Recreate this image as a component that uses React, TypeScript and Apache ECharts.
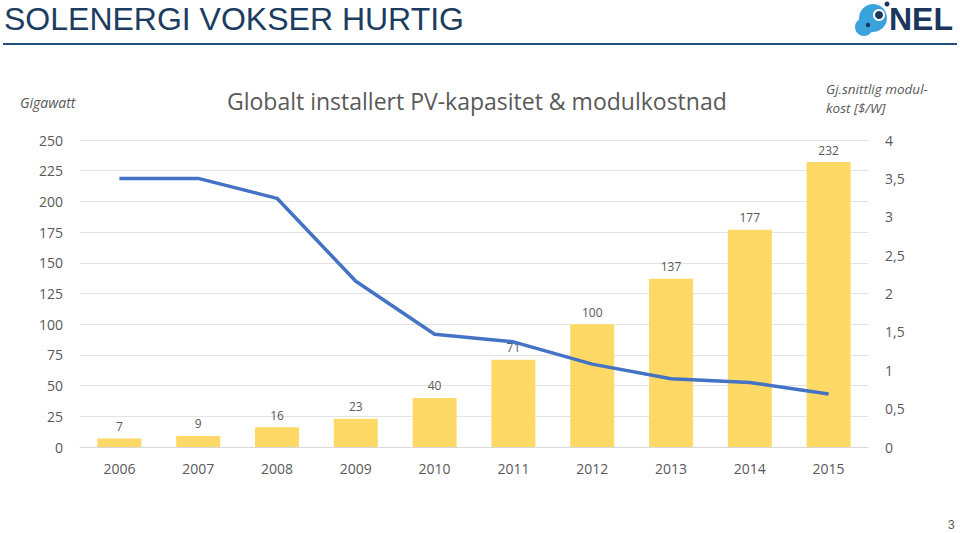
import React, { useEffect, useRef } from "react";
import * as echarts from "echarts";

const years = ["2006", "2007", "2008", "2009", "2010", "2011", "2012", "2013", "2014", "2015"];
const capacityGW = [7, 9, 16, 23, 40, 71, 100, 137, 177, 232];
const moduleCost = [3.5, 3.5, 3.24, 2.16, 1.47, 1.37, 1.08, 0.89, 0.84, 0.69];

const slideTitle = "SOLENERGI VOKSER HURTIG";
const chartTitle = "Globalt installert PV-kapasitet & modulkostnad";
const leftAxisName = "Gigawatt";
const rightAxisNameLines = ["Gj.snittlig modul-", "kost [$/W]"];

const FONT = "'Open Sans', 'Noto Sans', sans-serif";
const GRAY = "#595959";

export default function App() {
  const ref = useRef<HTMLDivElement>(null);
  useEffect(() => {
    if (!ref.current) return;
    const chart = echarts.init(ref.current, null, { renderer: "svg" });
    chart.setOption({
      animation: false,
      backgroundColor: "#ffffff",
      textStyle: { fontFamily: FONT },
      grid: { left: 80, top: 140, width: 788, height: 307, containLabel: false },
      xAxis: {
        type: "category",
        data: years,
        axisTick: { show: false },
        axisLine: { show: true, lineStyle: { color: "#D9D9D9", width: 1 } },
        axisLabel: { color: GRAY, fontSize: 14, margin: 14, fontFamily: FONT },
      },
      yAxis: [
        {
          type: "value",
          min: 0,
          max: 250,
          interval: 25,
          axisLine: { show: false },
          axisTick: { show: false },
          splitLine: { lineStyle: { color: "#E3E3E3", width: 1 } },
          axisLabel: { color: GRAY, fontSize: 14, margin: 17, fontFamily: FONT },
        },
        {
          type: "value",
          min: 0,
          max: 4,
          interval: 0.5,
          axisLine: { show: false },
          axisTick: { show: false },
          splitLine: { show: false },
          axisLabel: {
            color: GRAY,
            fontSize: 14,
            margin: 17,
            fontFamily: FONT,
            formatter: (v: number) => String(v).replace(".", ","),
          },
        },
      ],
      series: [
        {
          type: "bar",
          data: capacityGW,
          yAxisIndex: 0,
          barWidth: 44,
          itemStyle: { color: "#FFD966" },
          label: {
            show: true,
            position: "top",
            distance: 6,
            color: GRAY,
            fontSize: 12,
            fontFamily: FONT,
          },
        },
        {
          type: "line",
          data: moduleCost,
          yAxisIndex: 1,
          symbol: "none",
          lineStyle: { color: "#4472C4", width: 3.5 },
          z: 5,
        },
      ],
      graphic: [
        {
          type: "text",
          left: 4,
          top: 3,
          style: {
            text: slideTitle,
            fontSize: 32,
            fontFamily: "'Liberation Sans', 'DejaVu Sans', sans-serif",
            fontWeight: "normal",
            fill: "#1C3D5F",
          },
        },
        {
          type: "line",
          shape: { x1: 3, y1: 44, x2: 957, y2: 44 },
          style: { stroke: "#1F4E79", lineWidth: 2 },
        },
        // NEL logo
        { type: "circle", shape: { cx: 873, cy: 18, r: 14 }, style: { fill: "#3BA3DC" } },
        { type: "circle", shape: { cx: 864, cy: 27, r: 9 }, style: { fill: "#3BA3DC" } },
        { type: "circle", shape: { cx: 879, cy: 15, r: 6 }, style: { fill: "#ffffff" } },
        { type: "circle", shape: { cx: 879, cy: 15, r: 4 }, style: { fill: "#1B365D" } },
        { type: "circle", shape: { cx: 868, cy: 25, r: 2.2 }, style: { fill: "#1B365D" } },
        { type: "circle", shape: { cx: 887, cy: 4, r: 2.5 }, style: { fill: "#1B365D" } },
        {
          type: "text",
          left: 889,
          top: 3,
          style: {
            text: "NEL",
            fontSize: 32,
            fontWeight: "bold",
            fontFamily: "'Liberation Sans', sans-serif",
            fill: "#1B365D",
          },
        },
        {
          type: "text",
          left: 227,
          top: 89,
          style: { text: chartTitle, fontSize: 23, fill: GRAY, fontFamily: FONT },
        },
        {
          type: "text",
          left: 20,
          top: 95,
          style: { text: leftAxisName, fontSize: 14, fontStyle: "italic", fill: GRAY, fontFamily: FONT },
        },
        {
          type: "text",
          left: 826,
          top: 82,
          style: {
            text: rightAxisNameLines[0],
            fontSize: 13.5,
            lineHeight: 14,
            fontStyle: "italic",
            fill: GRAY,
            fontFamily: FONT,
          },
        },
        {
          type: "text",
          left: 826,
          top: 101,
          style: {
            text: rightAxisNameLines[1],
            fontSize: 13.5,
            lineHeight: 14,
            fontStyle: "italic",
            fill: GRAY,
            fontFamily: FONT,
          },
        },
        {
          type: "text",
          left: 948,
          top: 519,
          style: { text: "3", fontSize: 12, fill: GRAY, fontFamily: "'Liberation Sans', sans-serif" },
        },
      ],
    });
    return () => chart.dispose();
  }, []);
  return (
    <div
      ref={ref}
      style={{ position: "fixed", left: 0, top: 0, width: 960, height: 533 }}
    />
  );
}
